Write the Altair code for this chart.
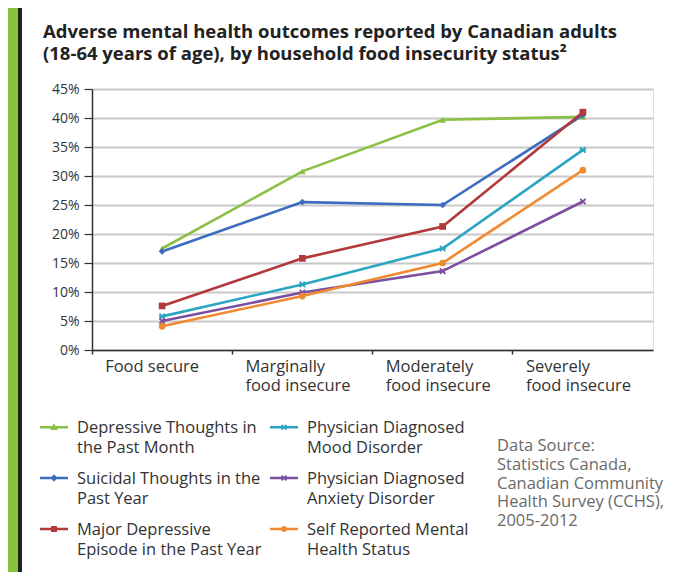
import math
import altair as alt
import pandas as pd

# ---------------- data ----------------
categories = ["Food secure", "Marginally food insecure",
              "Moderately food insecure", "Severely food insecure"]
category_lines = [["Food secure"], ["Marginally", "food insecure"],
                  ["Moderately", "food insecure"], ["Severely", "food insecure"]]

series = [
    "Depressive Thoughts in the Past Month",
    "Suicidal Thoughts in the Past Year",
    "Major Depressive Episode in the Past Year",
    "Physician Diagnosed Mood Disorder",
    "Physician Diagnosed Anxiety Disorder",
    "Self Reported Mental Health Status",
]
series_lines = [
    ["Depressive Thoughts in", "the Past Month"],
    ["Suicidal Thoughts in the", "Past Year"],
    ["Major Depressive", "Episode in the Past Year"],
    ["Physician Diagnosed", "Mood Disorder"],
    ["Physician Diagnosed", "Anxiety Disorder"],
    ["Self Reported Mental", "Health Status"],
]
depressive = [17.5, 30.8, 39.7, 40.2]
suicidal = [17.0, 25.5, 25.0, 40.5]
major = [7.6, 15.8, 21.3, 41.0]
mood = [5.8, 11.3, 17.5, 34.5]
anxiety = [5.0, 9.9, 13.6, 25.6]
self_rep = [4.1, 9.3, 15.0, 31.0]
values = [depressive, suicidal, major, mood, anxiety, self_rep]

colors = ["#8cbf45", "#3b6cbf", "#b3383a", "#2ba5c2", "#7b4f9f", "#ef8a30"]

title_lines = ["Adverse mental health outcomes reported by Canadian adults",
               "(18-64 years of age), by household food insecurity status\u00b2"]
source_lines = ["Data Source:", "Statistics Canada,", "Canadian Community",
                "Health Survey (CCHS),", "2005-2012"]
y_ticks = [0, 0.05, 0.10, 0.15, 0.20, 0.25, 0.30, 0.35, 0.40, 0.45]

# ---------------- table ----------------
rows = []
for s, vals in zip(series, values):
    for c, v in zip(categories, vals):
        rows.append({"series": s, "category": c, "value": v / 100})
df = pd.DataFrame(rows)

# ---------------- marker shapes ----------------
X_PTS = [(-1, -0.6), (-0.6, -1), (0, -0.4), (0.6, -1), (1, -0.6), (0.4, 0),
         (1, 0.6), (0.6, 1), (0, 0.4), (-0.6, 1), (-1, 0.6), (-0.4, 0)]
HBAR_PTS = [(-1, -0.2), (1, -0.2), (1, 0.2), (-1, 0.2)]


def poly(pts, k=1.0, dy=0.0):
    return "M" + "L".join(f"{round(x * k, 3)},{round(y * k + dy, 3)}" for x, y in pts) + "Z"


x_marker = poly(X_PTS)
ast_marker = poly(X_PTS) + poly(HBAR_PTS)
markers = ["triangle-up", "diamond", "square", ast_marker, x_marker, "circle"]

DY = 0.5  # legend symbol shifted down to the first label line
bar = poly([(-1, -0.09), (1, -0.09), (1, 0.09), (-1, 0.09)], dy=DY)
circle_pts = [(math.cos(2 * math.pi * i / 16), math.sin(2 * math.pi * i / 16)) for i in range(16)]
legend_shapes = [
    bar + poly([(0, -0.28), (0.28, 0.2), (-0.28, 0.2)], dy=DY),
    bar + poly([(0, -0.26), (0.26, 0), (0, 0.26), (-0.26, 0)], dy=DY),
    bar + poly([(-0.21, -0.21), (0.21, -0.21), (0.21, 0.21), (-0.21, 0.21)], dy=DY),
    bar + poly(X_PTS, 0.22, DY) + poly(HBAR_PTS, 0.22, DY),
    bar + poly(X_PTS, 0.22, DY),
    bar + poly(circle_pts, 0.22, DY),
]


def ternary(lines_map, default="datum.label"):
    expr = default
    for name, lines in lines_map:
        arr = "[" + ",".join("'" + l + "'" for l in lines) + "]"
        expr = f"datum.label == '{name}' ? {arr} : ({expr})"
    return expr


x_label_expr = ternary(list(zip(categories, category_lines)))
legend_label_expr = ternary(list(zip(series, series_lines)))

FONT = "Open Sans"
W, H = 561, 261
PAD = {"left": 84, "top": 81, "right": 12, "bottom": 222}

x_enc = alt.X("category:N", sort=categories,
              scale=alt.Scale(type="band", domain=categories, paddingInner=0, paddingOuter=0),
              axis=alt.Axis(title=None, bandPosition=0, labelAlign="left", labelOffset=-57,
                            labelBaseline="top", labelPadding=4, labelExpr=x_label_expr,
                            labelFontSize=16.5, labelLineHeight=19, labelColor="#333",
                            labelFont=FONT, domainColor="#333", domainWidth=1.5,
                            tickColor="#333", tickSize=4, tickWidth=1.5, grid=False,
                            labelAngle=0))
y_enc = alt.Y("value:Q", scale=alt.Scale(domain=[0, 0.45], nice=False),
              axis=alt.Axis(title=None, values=y_ticks, format=".0%", labelFontSize=14,
                            labelFont=FONT, labelColor="#333", tickSize=8, tickColor="#333",
                            tickWidth=1.2, domainColor="#333", domainWidth=1.5,
                            labelPadding=5, gridColor="#c8c8c8", gridWidth=2))

base = alt.Chart(df)

lines = base.mark_line(strokeWidth=2.6).encode(
    x=x_enc, y=y_enc,
    color=alt.Color("series:N", scale=alt.Scale(domain=series, range=colors), legend=None),
)
points = base.mark_point(filled=True, size=45, opacity=1).encode(
    x=x_enc, y=y_enc,
    color=alt.Color("series:N", scale=alt.Scale(domain=series, range=colors), legend=None),
    shape=alt.Shape("series:N", scale=alt.Scale(domain=series, range=markers), legend=None),
)

leg = alt.Legend(title=None, orient="none", legendX=-52, legendY=317, columns=2,
                 columnPadding=8, rowPadding=0, symbolSize=784, symbolStrokeWidth=0,
                 labelExpr=legend_label_expr, labelFont=FONT, labelFontSize=16.5,
                 labelColor="#333", labelLimit=400, labelOffset=9,
                 labelBaseline="top", padding=0)
legend_layer = base.transform_filter("false").mark_point(filled=True, size=784, opacity=1).encode(
    color=alt.Color("series:N", scale=alt.Scale(domain=series, range=colors), legend=leg),
    shape=alt.Shape("series:N", scale=alt.Scale(domain=series, range=legend_shapes), legend=leg),
)

one = pd.DataFrame({"d": [0]})
green_strip = alt.Chart(one).mark_rect(color="#86c440").encode(
    x=alt.value(-PAD["left"]), x2=alt.value(-PAD["left"] + 10),
    y=alt.value(-PAD["top"]), y2=alt.value(H + PAD["bottom"]))
dark_border = alt.Chart(one).mark_rect(color="#222").encode(
    x=alt.value(-PAD["left"] + 10), x2=alt.value(-PAD["left"] + 14),
    y=alt.value(-PAD["top"]), y2=alt.value(H + PAD["bottom"]))

title = alt.Chart(one).mark_text(
    text=title_lines, align="left", baseline="top", font=FONT, fontSize=18.5,
    fontWeight="bold", lineHeight=22, color="#222").encode(x=alt.value(-49), y=alt.value(-66))

source = alt.Chart(one).mark_text(
    text=source_lines, align="left", baseline="top", font=FONT, fontSize=16.5,
    lineHeight=18.8, color="#6a6a6a").encode(x=alt.value(405), y=alt.value(349))

chart = alt.layer(green_strip, dark_border, lines, points, legend_layer, title, source).resolve_scale(
    color="independent", shape="independent"
).properties(
    width=W, height=H, padding=PAD, autosize="none",
).configure_view(stroke=None).configure(
    background="white", style={"guide-label": {"lineHeight": 20}})

chart.save("out.html", embed_options={"renderer": "svg", "actions": False})
